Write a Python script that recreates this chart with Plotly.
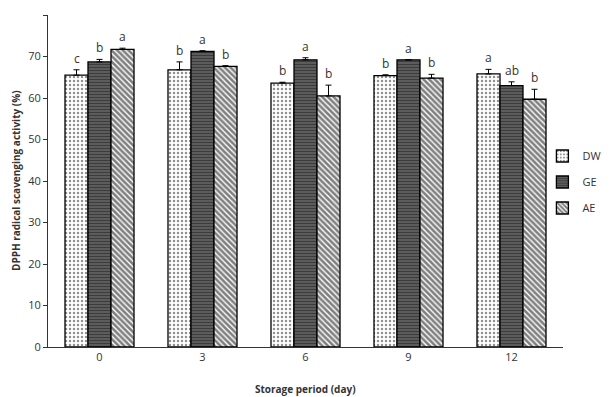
import plotly.graph_objects as go

days = ["0", "3", "6", "9", "12"]
series = ["DW", "GE", "AE"]
dw = [65.5, 66.8, 63.6, 65.4, 65.8]
ge = [68.7, 71.2, 69.2, 69.2, 63.0]
ae = [71.7, 67.6, 60.5, 64.8, 59.7]
dw_err = [1.3, 1.9, 0.2, 0.2, 1.1]
ge_err = [0.6, 0.2, 0.5, 0.0, 0.9]
ae_err = [0.3, 0.2, 2.6, 0.9, 2.4]
dw_lab = ["c", "b", "b", "b", "a"]
ge_lab = ["b", "a", "a", "a", "ab"]
ae_lab = ["a", "b", "b", "b", "b"]

vals = [dw, ge, ae]
errs = [dw_err, ge_err, ae_err]
labs = [dw_lab, ge_lab, ae_lab]
patterns = [
    dict(shape=".", fgcolor="#222222", bgcolor="white", size=4, solidity=0.3),
    dict(shape="-", fgcolor="#111111", bgcolor="#666666", size=3, solidity=0.5),
    dict(shape="\\", fgcolor="#000000", bgcolor="white", size=4, solidity=0.65),
]

FONT = "Open Sans, sans-serif"
# page body has an 8px default margin, so the figure is sized to fit the 615x397 window
W, H = 607, 389
L, R, T, B = 40, 52, 7, 50
PW, PH = W - L - R, H - T - B

fig = go.Figure()
for i, name in enumerate(series):
    fig.add_trace(go.Bar(
        x=days, y=vals[i], name=name, legendgroup=name,
        marker=dict(color="white", line=dict(color="black", width=1.3), pattern=patterns[i]),
        error_y=dict(type="data", array=errs[i], symmetric=False, arrayminus=[0]*5,
                     color="black", thickness=1, width=3),
        offsetgroup=str(i),
    ))

# letters above bars
bw = 0.67 / 3
for i in range(3):
    for j, d in enumerate(days):
        fig.add_annotation(
            x=j + (i - 1) * bw, y=vals[i][j] + errs[i][j], xref="x", yref="y",
            text=labs[i][j], showarrow=False, yanchor="bottom", yshift=1,
            font=dict(family=FONT, size=12, color="#333333"),
        )

# axis titles
fig.add_annotation(x=(8 - L) / PW, y=0.5, xref="paper", yref="paper", xanchor="center", yanchor="middle",
                   text="<b>DPPH radical scavenging activity (%)</b>", textangle=-90, showarrow=False,
                   font=dict(family=FONT, size=10, color="#333333"))
fig.add_annotation(x=0.5, y=-(381 - (T + PH)) / PH, xref="paper", yref="paper", xanchor="center", yanchor="middle",
                   text="<b>Storage period (day)</b>", showarrow=False,
                   font=dict(family=FONT, size=10, color="#333333"))

fig.update_layout(
    width=W, height=H,
    margin=dict(l=L, r=R, t=T, b=B, autoexpand=False),
    plot_bgcolor="white", paper_bgcolor="white",
    barmode="group", bargap=0.33, bargroupgap=0,
    font=dict(family=FONT, size=11, color="#333333"),
    showlegend=True,
    legend=dict(x=0.96, y=0.497, xanchor="left", yanchor="middle",
                font=dict(size=11, color="#333333"), tracegroupgap=7,
                bgcolor="rgba(0,0,0,0)", itemwidth=30),
    xaxis=dict(type="category", range=[-0.5, 4.5], showline=True, linecolor="#333333",
               linewidth=1, ticks="", showgrid=False, zeroline=False, automargin=False),
    yaxis=dict(range=[0, 80], dtick=10, showline=True, linecolor="#333333", linewidth=1,
               ticks="outside", ticklen=4, tickcolor="#333333", showgrid=False, zeroline=False,
               automargin=False),
)

fig.write_html("out.html")
